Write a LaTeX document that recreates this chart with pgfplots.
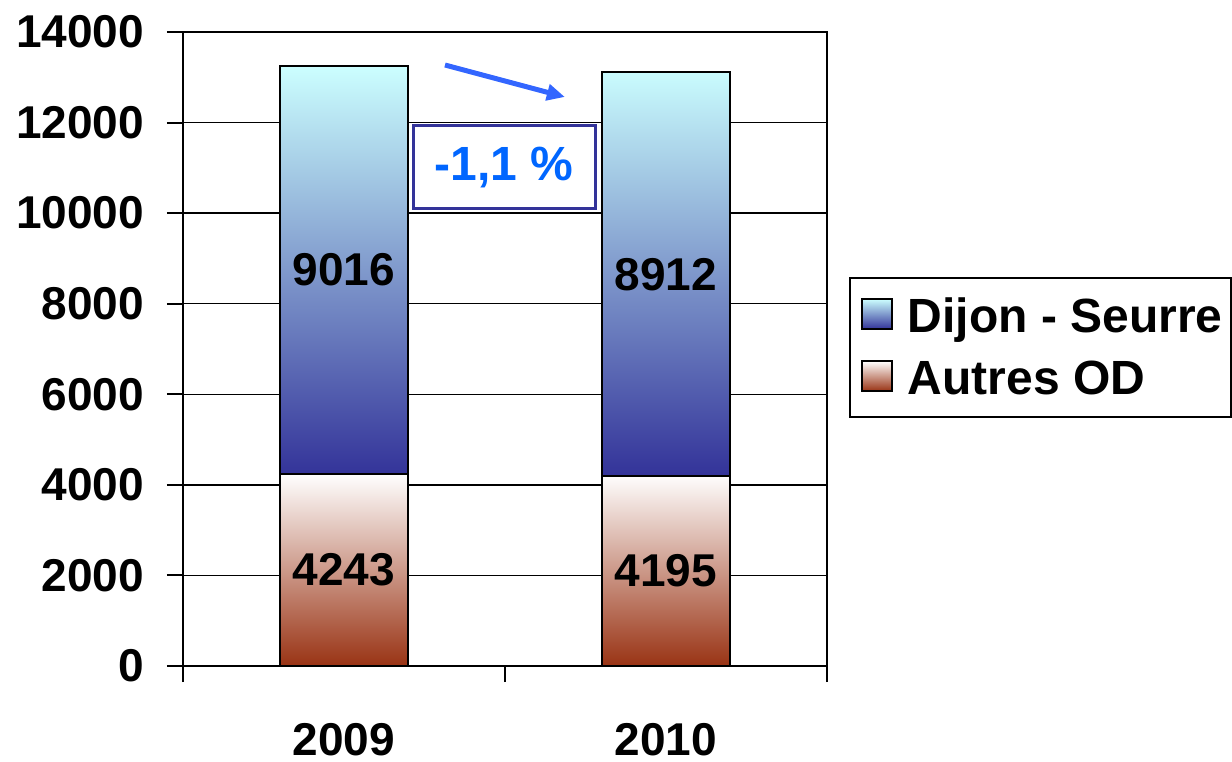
\documentclass[border=0pt]{standalone}
\usepackage{pgfplots}
\pgfplotsset{compat=1.18}
\usepackage{fontspec}
\setmainfont{Liberation Sans}
\usetikzlibrary{arrows.meta}
\definecolor{dtop}{RGB}{204,255,255}
\definecolor{dmid}{RGB}{155,188,212}
\definecolor{dbot}{RGB}{51,51,153}
\definecolor{amid}{RGB}{212,184,182}
\definecolor{abot}{RGB}{153,51,20}
\definecolor{arrowblue}{RGB}{51,102,255}
\definecolor{txtblue}{RGB}{0,102,255}
\definecolor{boxblue}{RGB}{51,51,153}
\pgfplotsset{sqlegend/.style={legend image code/.code={\path (0pt,0pt) (24pt,0pt); \draw[##1, line width=0.7pt] (3.5pt,-6pt) rectangle (18.5pt,9pt);}}}
\begin{document}
\begin{tikzpicture}
\path[use as bounding box] (-91.5pt,-47.5pt) rectangle (524.5pt,333pt);
\begin{axis}[
  at={(0pt,0pt)}, anchor=south west,
  scale only axis, width=322pt, height=317pt,
  xmin=-0.5, xmax=1.5, ymin=0, ymax=14000,
  ybar stacked, bar width=64pt,
  ytick={0,2000,...,14000},
  scaled y ticks=false,
  /pgf/number format/assume math mode=true,
  /pgf/number format/fixed,
  /pgf/number format/1000 sep={},
  tick label style={font=\bfseries\fontsize{23}{27}\selectfont},
  yticklabel style={xshift=-8pt},
  ymajorgrids, grid style={black, line width=0.7pt},
  axis line style={black, line width=1pt},
  tick style={black, line width=1pt},
  tick align=outside, tick pos=left,
  major tick length=8pt,
  xtick={-0.5,0.5,1.5}, xticklabels={},
  extra x ticks={0,1}, extra x tick labels={2009,2010},
  extra x tick style={major tick length=0pt, grid=none, tick label style={yshift=-25pt, text depth=0pt}},
  legend style={at={(1.034,0.502)}, anchor=west, draw=black, line width=1pt,
    font=\bfseries\fontsize{24}{28}\selectfont, inner xsep=2pt, inner ysep=8pt,
    row sep=8.5pt},
  legend cell align=left,
  reverse legend,
]
\addplot[draw=black, line width=1pt, top color=white, middle color=amid, bottom color=abot, sqlegend]
  coordinates {(0,4243) (1,4195)};
\addlegendentry{Autres OD}
\addplot[draw=black, line width=1pt, top color=dtop, middle color=dmid, bottom color=dbot, sqlegend]
  coordinates {(0,9016) (1,8912)};
\addlegendentry{Dijon - Seurre}
\end{axis}
\begin{axis}[
  at={(0pt,0pt)}, anchor=south west,
  scale only axis, width=322pt, height=317pt,
  xmin=-0.5, xmax=1.5, ymin=0, ymax=14000,
  hide axis, clip=false,
]
\addplot[only marks, mark=none, nodes near coords, point meta=explicit symbolic,
  nodes near coords style={anchor=center, font=\bfseries\fontsize{23}{27}\selectfont, text=black}]
  coordinates {(0,2121.5)[4243] (1,2097.5)[4195] (0,8751)[9016] (1,8651)[8912]};
\draw[arrowblue, line width=2.5pt, -{Triangle[length=9pt,width=8pt]}]
  (axis cs:0.3137,13271) -- (axis cs:0.686,12565);
\node[draw=boxblue, line width=1.5pt, fill=white, text=txtblue,
  minimum width=91pt, minimum height=41.5pt, inner sep=0pt,
  font=\bfseries\fontsize{24}{28}\selectfont] at (axis cs:0.497,11008) {-1,1 \%};
\end{axis}
\end{tikzpicture}
\end{document}
